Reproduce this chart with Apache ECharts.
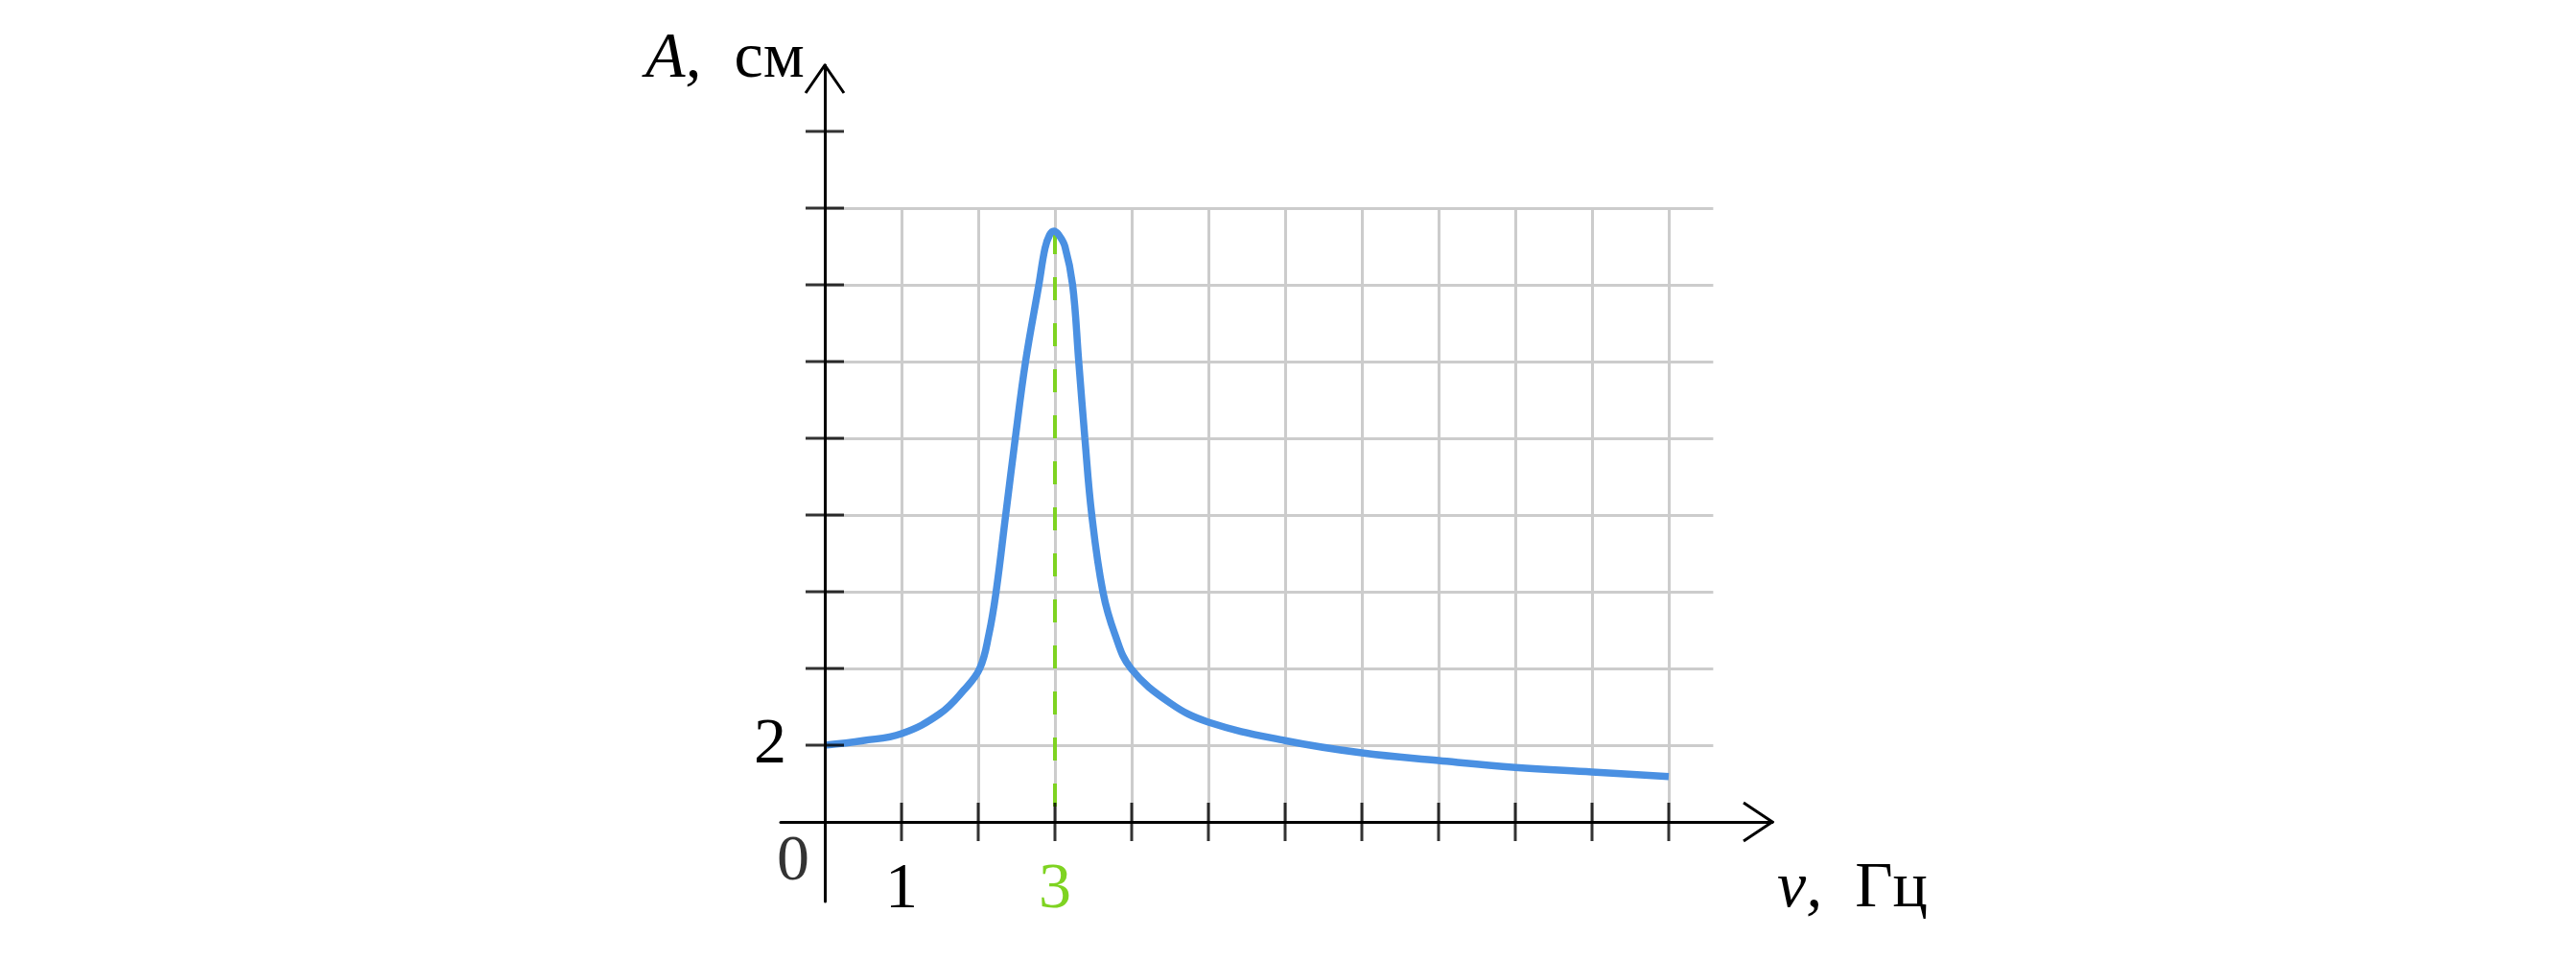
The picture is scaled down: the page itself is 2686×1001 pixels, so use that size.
<!DOCTYPE html>
<html>
<head>
<meta charset="utf-8">
<script src="https://cdn.jsdelivr.net/npm/echarts@6/dist/echarts.min.js"></script>
<style>html,body{margin:0;padding:0;background:#fff}#c{width:2686px;height:1001px}</style>
</head>
<body>
<div id="c"></div>
<script>
// ---- data ----
const nu  = [0, 0.5, 1.0, 1.5, 1.81, 2.02, 2.14, 2.233, 2.358, 2.483, 2.617, 2.79, 2.87, 2.93, 2.985, 3.05, 3.13, 3.23, 3.31, 3.39, 3.48, 3.625, 3.78, 3.99, 4.5, 5.0, 6.0, 7.0, 8.0, 9.0, 10.0, 11.0];
const amp = [2.0, 2.12, 2.3, 2.82, 3.43, 4.0, 4.9, 6.0, 8.0, 10.0, 12.0, 14.0, 14.95, 15.3, 15.4, 15.3, 15.0, 14.0, 12.0, 10.0, 8.0, 6.0, 4.9, 4.0, 3.1, 2.6, 2.12, 1.8, 1.6, 1.42, 1.3, 1.18];
const xTicks = [1, 2, 3, 4, 5, 6, 7, 8, 9, 10, 11];
const yTicks = [2, 4, 6, 8, 10, 12, 14, 16, 18];
const gridXs = [1, 2, 3, 4, 5, 6, 7, 8, 9, 10, 11];
const gridYs = [2, 4, 6, 8, 10, 12, 14, 16];
const gridTop = 16;
const gridRight = 11.58;
const xLabelValues = [1, 3];
const yLabelValues = [2];
const resonanceNu = 3;
const resonancePeak = 15.4;
const xMin = -0.575, xMax = 12.35, yMin = -2.075, yMax = 19.725;

const FONT = "'Liberation Serif', 'DejaVu Serif', serif";
const chart = echarts.init(document.getElementById('c'), null, {renderer: 'canvas'});

const gridLines = [];
gridXs.forEach(x => gridLines.push({coords: [[x, 0], [x, gridTop]]}));
gridYs.forEach(y => gridLines.push({coords: [[0, y], [gridRight, y]]}));

const arrowX = {coords: [[xMax - 0.375, 0.5], [xMax, 0], [xMax - 0.375, -0.5]]};
const arrowY = {coords: [[-0.25, yMax - 0.725], [0, yMax], [0.25, yMax - 0.725]]};

chart.setOption({
  animation: false,
  backgroundColor: '#ffffff',
  grid: {left: 814, top: 68, width: 1034, height: 872, containLabel: false, outerBoundsMode: 'none'},
  xAxis: {
    type: 'value', min: xMin, max: xMax, z: 10,
    axisLine: {show: true, onZero: true, lineStyle: {color: '#000', width: 3}},
    axisTick: {show: false},
    splitLine: {show: false},
    axisLabel: {
      show: true, customValues: xLabelValues, margin: -46,
      color: v => (Number(v) === resonanceNu ? '#7ed321' : '#000'),
      fontSize: 68, fontFamily: FONT
    }
  },
  yAxis: {
    type: 'value', min: yMin, max: yMax, z: 10,
    axisLine: {show: true, onZero: true, lineStyle: {color: '#000', width: 3}},
    axisTick: {show: false},
    splitLine: {show: false},
    axisLabel: {show: true, customValues: yLabelValues, margin: -6, padding: [14, 0, 0, 0], color: '#000', fontSize: 68, fontFamily: FONT}
  },
  graphic: [
    {type: 'text', left: 673, top: 28, z: 20, style: {
      text: '{i|A,}{n|см}', fill: '#000',
      rich: {i: {fontStyle: 'italic', fontSize: 68, fontFamily: FONT}, n: {fontSize: 68, fontFamily: FONT, padding: [0, 0, 0, 34]}}
    }},
    {type: 'text', left: 1853, top: 893, z: 20, style: {
      text: '{i|ν,}{n|Гц}', fill: '#000',
      rich: {i: {fontStyle: 'italic', fontSize: 68, fontFamily: FONT}, n: {fontSize: 68, fontFamily: FONT, padding: [0, 0, 0, 34]}}
    }}
  ],
  series: [
    {type: 'lines', coordinateSystem: 'cartesian2d', z: 1, silent: true,
     lineStyle: {color: '#cccccc', width: 3, opacity: 1}, data: gridLines},
    {type: 'lines', coordinateSystem: 'cartesian2d', z: 3, silent: true,
     lineStyle: {color: '#7ed321', width: 4, opacity: 1, type: [24, 24]},
     data: [{coords: [[resonanceNu, resonancePeak], [resonanceNu, 0]]}]},
    {type: 'line', z: 5, silent: true, showSymbol: false, smooth: 0.4,
     lineStyle: {color: '#4a90e2', width: 7.5}, data: nu.map((x, i) => [x, amp[i]])},
    {type: 'scatter', z: 12, silent: true, symbol: 'rect', symbolSize: [3, 40],
     itemStyle: {color: '#000'}, data: xTicks.map(x => [x, 0])},
    {type: 'scatter', z: 12, silent: true, symbol: 'rect', symbolSize: [40, 3],
     itemStyle: {color: '#000'}, data: yTicks.map(y => [0, y])},
    {type: 'lines', coordinateSystem: 'cartesian2d', polyline: true, z: 12, silent: true,
     lineStyle: {color: '#000', width: 3, opacity: 1}, data: [arrowX, arrowY]},
    {type: 'scatter', z: 12, silent: true, symbolSize: 0, data: [[0, 0]],
     label: {show: true, position: 'inside', offset: [-33, 42], formatter: '0', color: '#000', fontSize: 68, fontFamily: FONT}}
  ]
});
</script>
</body>
</html>
